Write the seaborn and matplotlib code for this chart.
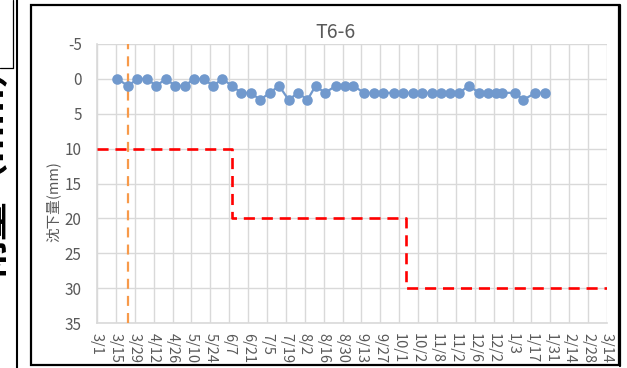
import matplotlib
matplotlib.use("Agg")
import matplotlib.pyplot as plt
from matplotlib.lines import Line2D
from matplotlib.patches import Rectangle
import seaborn as sns
import pandas as pd

# ---- data ----
start_date = "2022-03-01"
meas_dates = ["2022-03-16", "2022-03-24", "2022-03-31", "2022-04-07", "2022-04-14",
              "2022-04-21", "2022-04-28", "2022-05-05", "2022-05-12", "2022-05-19",
              "2022-05-26", "2022-06-02", "2022-06-09", "2022-06-16", "2022-06-23",
              "2022-06-30", "2022-07-07", "2022-07-14", "2022-07-21", "2022-07-28",
              "2022-08-04", "2022-08-10", "2022-08-17", "2022-08-25", "2022-09-01",
              "2022-09-07", "2022-09-15", "2022-09-22", "2022-09-29", "2022-10-07",
              "2022-10-14", "2022-10-21", "2022-10-28", "2022-11-04", "2022-11-11",
              "2022-11-18", "2022-11-24", "2022-12-02", "2022-12-09", "2022-12-16",
              "2022-12-22", "2022-12-26", "2023-01-05", "2023-01-11", "2023-01-20",
              "2023-01-27"]
settlement = [0, 1, 0, 0, 1, 0, 1, 1, 0, 0,
              1, 0, 1, 2, 2, 3, 2, 1, 3, 2,
              3, 1, 2, 1, 1, 1, 2, 2, 2, 2,
              2, 2, 2, 2, 2, 2, 2, 1, 2, 2,
              2, 2, 2, 3, 2, 2]

limit_dates = ["2022-03-01", "2022-06-09", "2022-10-16", "2023-03-14"]
limit_values = [10, 20, 30, 30]

event_date = "2022-03-24"

tick_labels = ["3/1", "3/15", "3/29", "4/12", "4/26", "5/10", "5/24", "6/7", "6/21",
               "7/5", "7/19", "8/2", "8/16", "8/30", "9/13", "9/27", "10/1", "10/2",
               "11/8", "11/2", "12/6", "12/2", "1/3", "1/17", "1/31", "2/14", "2/28", "3/14"]
y_ticks = [-5, 0, 5, 10, 15, 20, 25, 30, 35]

title = "T6-6"
ylabel = "沈下量(mm)"
side_text = "雨量（mm）"

# ---- prep ----
t0 = pd.Timestamp(start_date)
def to_days(lst):
    return [(pd.Timestamp(d) - t0).days for d in lst]

df = pd.DataFrame({"day": to_days(meas_dates), "val": settlement})
lim_x = to_days(limit_dates)
ev_x = (pd.Timestamp(event_date) - t0).days
tick_pos = [i * 14 for i in range(len(tick_labels))]

sns.set_style("white")
plt.rcParams['font.family'] = ['Noto Sans CJK JP', 'DejaVu Sans']

W, H = 627, 368
fig = plt.figure(figsize=(W / 100, H / 100), dpi=100)
ax = fig.add_axes([97 / W, 1 - 323 / H, (607 - 97) / W, (323 - 44) / H])

grid_c = "#d9d9d9"
text_c = "#595959"

# red limit step line
ax.plot(lim_x, limit_values, drawstyle="steps-post", color="#ff0000",
        lw=1.9, dashes=(4.2, 2.6), zorder=3)
# orange event line
ax.axvline(ev_x, color="#f79a4a", lw=1.6, dashes=(4.5, 3.2), zorder=3)

sns.lineplot(data=df, x="day", y="val", ax=ax, color="#7199cd", lw=1.6,
             marker="o", markersize=7.6, markeredgewidth=0, zorder=4)

ax.set_xlim(0, tick_pos[-1])
ax.set_ylim(35, -5)
ax.set_xticks(tick_pos)
ax.set_xticklabels(tick_labels, rotation=-90, va="top", ha="center",
                   fontsize=10.5, color=text_c)
ax.set_yticks(y_ticks)
ax.set_yticklabels([str(v) for v in y_ticks], fontsize=11, color=text_c)
ax.tick_params(axis="both", length=0)
ax.tick_params(axis="y", pad=11)
ax.tick_params(axis="x", pad=7)
ax.grid(True, color=grid_c, lw=1.0)
ax.set_axisbelow(True)
for s in ["top", "right"]:
    ax.spines[s].set_visible(False)
for s in ["left", "bottom"]:
    ax.spines[s].set_color(grid_c)
    ax.spines[s].set_linewidth(1.2)
ax.set_xlabel("")
ax.set_ylabel("")

fig.text(336 / W, 1 - 33 / H, title, ha="center", va="center",
         fontsize=14, color=text_c)
fig.text(53 / W, 1 - 202 / H, ylabel, ha="center", va="center",
         rotation=90, fontsize=10.5, color=text_c)

# chart border
fig.add_artist(Rectangle((31 / W, 1 - 365 / H), (619 - 31) / W, (365 - 5) / H,
                         transform=fig.transFigure, fill=False,
                         edgecolor="black", lw=1.6))
fig.add_artist(Line2D([619.5 / W, 619.5 / W], [1 - 366 / H, 1 - 5 / H],
                      transform=fig.transFigure, color="black", lw=1.6))
# page fragments at left
fig.add_artist(Line2D([12.5 / W, 12.5 / W], [1, 1 - 68 / H],
                      transform=fig.transFigure, color="black", lw=0.9))
fig.add_artist(Line2D([0, 12.5 / W], [1 - 68 / H, 1 - 68 / H],
                      transform=fig.transFigure, color="black", lw=0.9))
fig.add_artist(Line2D([17 / W, 17 / W], [0, 1],
                      transform=fig.transFigure, color="black", lw=1.5))
fig.text(-9 / W, 1 - 162 / H, side_text, ha="center", va="center",
         rotation=90, fontsize=28, fontweight="bold", color="black")

fig.savefig("out.png", dpi=100)
